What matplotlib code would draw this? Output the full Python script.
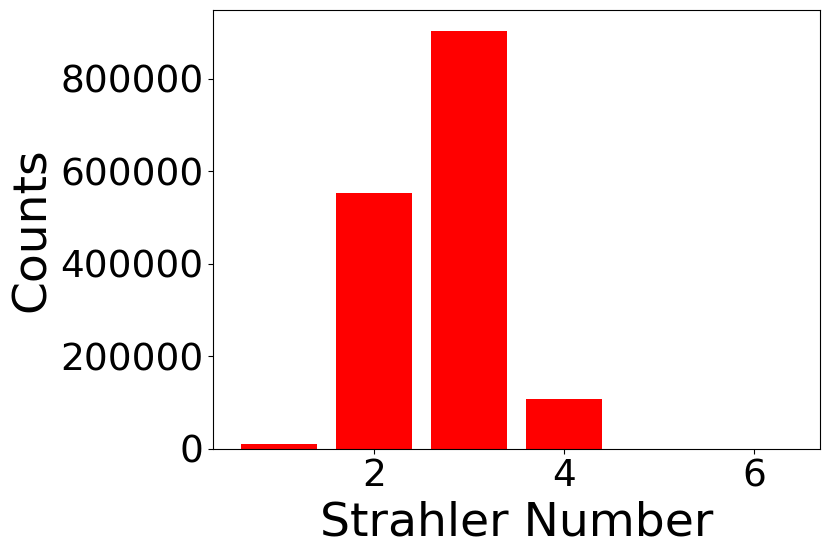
import matplotlib
matplotlib.use("Agg")
import matplotlib.pyplot as plt

# Strahler order counts
strahler = [1, 2, 3, 4, 5, 6]
counts = [11000, 552000, 903000, 107000, 300, 5]

fig = plt.figure(figsize=(8.3, 5.54), dpi=100)
ax = fig.add_subplot(111)
ax.bar(strahler, counts, color="red")

ax.set_xlabel("Strahler Number", fontsize=34)
ax.set_ylabel("Counts", fontsize=34)
ax.tick_params(axis="both", labelsize=27)

fig.subplots_adjust(left=0.257, right=0.988, top=0.982, bottom=0.19)
fig.savefig("out.png", dpi=100)
